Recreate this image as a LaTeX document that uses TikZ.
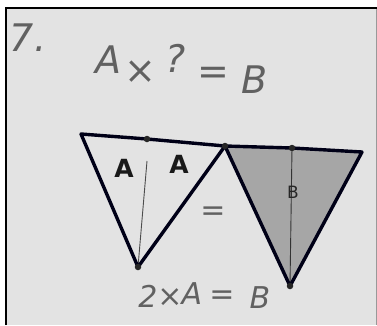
\documentclass[tikz,border=0pt]{standalone}
\usepackage{fontspec}
\setmainfont{DejaVu Sans}
\begin{document}
\begin{tikzpicture}[x=1pt,y=-1pt,
  edge/.style={draw=black!85!blue!60!black, line width=3.4pt, line join=round, line cap=round},
  thin/.style={draw=black!80, line width=0.9pt},
  dotm/.style={circle, fill=black!85, inner sep=0pt, minimum size=6.5pt},
  hand/.style={text=black!62, inner sep=0pt},
  big/.style={hand, font=\itshape\fontsize{38}{38}\selectfont},
  mid/.style={hand, font=\itshape\fontsize{30}{30}\selectfont},
  blob/.style={text=black!90, font=\bfseries\fontsize{25}{25}\selectfont}]
\useasboundingbox (0,0) rectangle (377,325);
\fill[white] (0,0) rectangle (377,325);
\fill[black!11] (6,8) rectangle (376,325);
\draw[black, line width=2pt] (6,325) -- (6,8) -- (377,8);
\draw[black!40, line width=0.6pt] (376,9) -- (376,325);
% coordinates
\coordinate (LA) at (81,134);
\coordinate (LM) at (147,139);
\coordinate (J) at (225,146);
\coordinate (LB) at (138,267);
\coordinate (RM) at (292,148);
\coordinate (RA) at (362,152);
\coordinate (RB) at (290,286);
% right shaded triangle
\fill[black!35] (J) -- (RA) -- (RB) -- cycle;
\draw[thin] (RM) -- (RB);
\draw[edge] (J) -- (RM) -- (RA) -- (RB) -- cycle;
\node[dotm] (dRM) at (RM) {};
\node[dotm] (dRB) at (RB) {};
\node[font=\rmfamily\fontsize{17}{17}\selectfont, text=black!85] (labB) at (293,192) {B};
% left triangle
\draw[thin, black!70] (LM) ++(0,22) coordinate (LT) -- (LB);
\draw[edge] (LA) -- (LM) -- (J) -- (LB) -- cycle;
\node[dotm] (dLM) at (LM) {};
\node[dotm] (dLB) at (LB) {};
\node[dotm] (dJ) at (J) {};
\node[blob] (a1) at (124,168) {A};
\node[blob] (a2) at (179,164) {A};
% texts
\node[big] (num) at (28,38) {7.};
\node[big] (t1) at (108,60) {A};
\node[big] (t2) at (140,72) {×};
\node[big] (t3) at (176,58) {?};
\node[big] (t4) at (213,76) {=};
\node[big] (t5) at (255,80) {B};
\node[mid] (eq) at (213,214) {=};
\node[mid] (u1) at (148,296) {2};
\node[mid] (u2) at (170,298) {×};
\node[mid] (u3) at (192,294) {A};
\node[mid] (u4) at (222,298) {=};
\node[mid] (u5) at (260,298) {B};
\end{tikzpicture}
\end{document}
